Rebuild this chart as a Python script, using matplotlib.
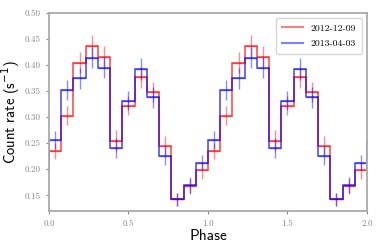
import numpy as np
import matplotlib
matplotlib.use('Agg')
import matplotlib.pyplot as plt

plt.rcParams['mathtext.fontset'] = 'dejavusans'
plt.rcParams['axes.unicode_minus'] = False

# one pulse cycle, 13 phase bins (shown twice)
nbins = 13
rate_1 = [0.235, 0.303, 0.405, 0.437, 0.416, 0.255, 0.322, 0.377, 0.349, 0.245, 0.142, 0.167, 0.198]
err_1 = [0.015, 0.018, 0.020, 0.021, 0.020, 0.020, 0.018, 0.020, 0.019, 0.018, 0.013, 0.015, 0.016]
rate_2 = [0.256, 0.353, 0.375, 0.414, 0.395, 0.241, 0.332, 0.392, 0.338, 0.226, 0.142, 0.170, 0.213]
err_2 = [0.017, 0.019, 0.020, 0.020, 0.020, 0.019, 0.019, 0.021, 0.020, 0.018, 0.013, 0.015, 0.015]
labels = ['2012-12-09', '2013-04-03']
colors = ['r', 'b']

fig = plt.figure(figsize=(3.9, 2.47), dpi=100)
ax = fig.add_axes([0.1256, 0.146, 0.8154, 0.801])

ncyc = 4  # draw from phase -1 to 3, clip to 0..2
edges = np.arange(-nbins, nbins * 3 + 1) / nbins
centers = (edges[:-1] + edges[1:]) / 2
for rate, err, c, lab in zip([rate_1, rate_2], [err_1, err_2], colors, labels):
    vals = np.tile(rate, ncyc)
    errs = np.tile(err, ncyc)
    ax.stairs(vals, edges, color=c, alpha=0.75, lw=1.1)
    ax.errorbar(centers, vals, yerr=errs, xerr=0.5 / nbins, fmt='none',
                ecolor=c, alpha=0.45, lw=1.0)
    ax.plot([], [], color=c, alpha=0.5, lw=1.5, label=lab)

ax.set_xlim(0, 2)
ax.set_ylim(0.12, 0.5)
ax.set_xticks([0, 0.5, 1.0, 1.5, 2.0])
ax.set_yticks(np.arange(0.15, 0.501, 0.05))
ax.xaxis.set_major_formatter(matplotlib.ticker.FormatStrFormatter('%.1f'))
ax.yaxis.set_major_formatter(matplotlib.ticker.FormatStrFormatter('%.2f'))
for t in ax.get_xticklabels() + ax.get_yticklabels():
    t.set_family('cmr10')
    t.set_fontsize(6.5)
    t.set_color('#333333')
ax.tick_params(colors='#888888', length=2.5, width=0.8)
for s in ax.spines.values():
    s.set_color('#aaaaaa')
    s.set_linewidth(1.3)

ax.set_xlabel('Phase', family='cmss10', fontsize=11, labelpad=1)
ax.set_ylabel('Count rate (s$^{-1}$)', family='cmss10', fontsize=10.5, labelpad=2)

leg = ax.legend(loc='upper right', prop={'family': 'cmr10', 'size': 7},
                handlelength=2.2, borderpad=0.6, labelspacing=0.7)
leg.get_frame().set_edgecolor('#cccccc')

fig.savefig('out.png', dpi=100)
